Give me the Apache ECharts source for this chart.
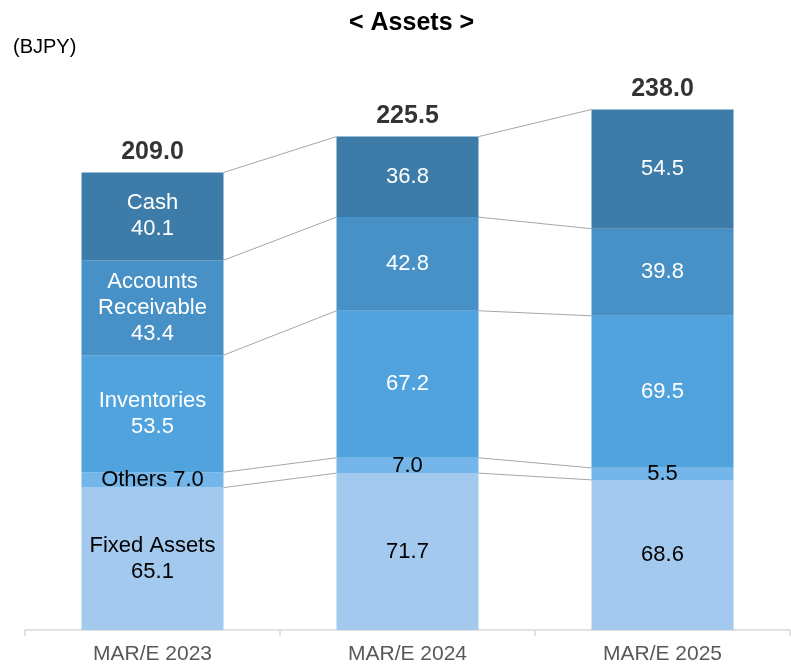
<!DOCTYPE html>
<html>
<head>
    <title>Assets</title>
    <meta charset="utf-8">
    <script type="text/javascript" src="https://cdn.jsdelivr.net/npm/echarts@6/dist/echarts.min.js"></script>
</head>
<body style="height: 100%; margin: 0">
    <div id="container" style="width: 791px; height: 664px"></div>
<script type="text/javascript">
// 期末ごとの資産内訳 (BJPY)
var years = ['MAR/E 2023', 'MAR/E 2024', 'MAR/E 2025'];
var fixedAssets = [65.1, 71.7, 68.6];
var others = [7.0, 7.0, 5.5];
var inventories = [53.5, 67.2, 69.5];
var receivable = [43.4, 42.8, 39.8];
var cash = [40.1, 36.8, 54.5];
var totals = [209.0, 225.5, 238.0];

var FONT = 'Liberation Sans, Arial, sans-serif';

// bottom -> top
var parts = [
    {name: 'Fixed Assets', label: 'Fixed Assets', data: fixedAssets, color: '#a3c9ee', text: '#000'},
    {name: 'Others', label: 'Others', data: others, color: '#74b6e9', text: '#000'},
    {name: 'Inventories', label: 'Inventories', data: inventories, color: '#50a3dc', text: '#fff'},
    {name: 'Accounts Receivable', label: 'Accounts\nReceivable', data: receivable, color: '#4791c7', text: '#fff'},
    {name: 'Cash', label: 'Cash', data: cash, color: '#3d7ca8', text: '#fff'}
];

// 各区切りの累積値（つなぎ線用）
var lines = [];
var cum = [0, 0, 0];
parts.forEach(function (p) {
    for (var i = 0; i < years.length; i++) cum[i] += p.data[i];
    for (var j = 0; j < years.length - 1; j++) {
        lines.push([j, cum[j], cum[j + 1]]);
    }
});

var BAR_W = 142;

var series = parts.map(function (p) {
    return {
        name: p.name,
        type: 'bar',
        stack: 'assets',
        barWidth: BAR_W,
        data: p.data,
        itemStyle: {color: p.color},
        label: {
            show: true,
            position: 'inside',
            color: p.text,
            fontSize: 22,
            lineHeight: 26,
            fontFamily: FONT,
            formatter: function (params) {
                var v = params.value.toFixed(1);
                if (params.dataIndex !== 0) return v;
                if (p.name === 'Others') return p.label + ' ' + v;
                return p.label + '\n' + v;
            }
        },
        z: 3
    };
});

series.push({
    type: 'custom',
    name: 'connector',
    data: lines,
    encode: {x: 0, y: 1},
    silent: true,
    z: 1,
    renderItem: function (params, api) {
        var a = api.coord([api.value(0), api.value(1)]);
        var b = api.coord([api.value(0) + 1, api.value(2)]);
        return {
            type: 'line',
            shape: {x1: a[0] + BAR_W / 2, y1: a[1], x2: b[0] - BAR_W / 2, y2: b[1]},
            style: {stroke: '#a6a6a6', lineWidth: 1}
        };
    }
});

series.push({
    type: 'scatter',
    name: 'total',
    data: totals,
    symbolSize: 0,
    silent: true,
    label: {
        show: true,
        position: 'top',
        distance: 8,
        color: '#000',
        fontSize: 25,
        fontWeight: 'bold',
        fontFamily: FONT,
        formatter: function (params) {
            return params.value.toFixed(1);
        }
    }
});

var myChart = echarts.init(document.getElementById('container'));
var option = {
    animation: false,
    title: [{
        text: '< Assets >',
        left: 344,
        top: 6,
        textStyle: {fontSize: 25, fontWeight: 'bold', color: '#000', fontFamily: FONT}
    }, {
        text: '(BJPY)',
        left: 8,
        top: 32,
        textStyle: {fontSize: 20, fontWeight: 'normal', color: '#000', fontFamily: FONT}
    }],
    grid: {left: 25, right: 1, top: 83, bottom: 34, outerBoundsMode: 'none'},
    xAxis: {
        type: 'category',
        data: years,
        axisLine: {lineStyle: {color: '#d9d9d9', width: 1.5}},
        axisTick: {show: true, length: 6, lineStyle: {color: '#d9d9d9', width: 1.5}},
        axisLabel: {color: '#595959', fontSize: 21, margin: 14, fontFamily: FONT}
    },
    yAxis: {
        type: 'value',
        min: 0,
        max: 250,
        show: false,
        splitLine: {show: false}
    },
    series: series
};
myChart.setOption(option);
</script>
</body>
</html>
